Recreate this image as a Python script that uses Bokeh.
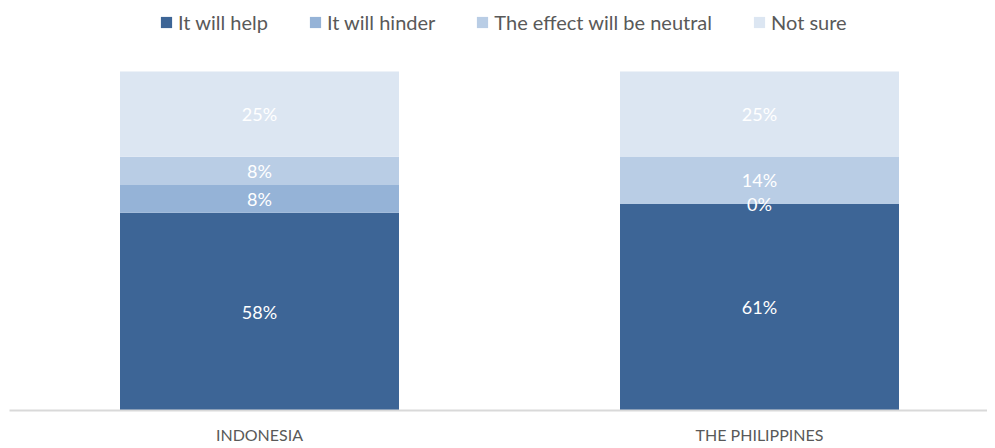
from bokeh.plotting import figure
from bokeh.models import ColumnDataSource, Range1d, Legend, LegendItem, LabelSet, FixedTicker
from bokeh.core.properties import value
from bokeh.embed import file_html
from bokeh.resources import INLINE

categories = ["INDONESIA", "THE PHILIPPINES"]
series = ["It will help", "It will hinder", "The effect will be neutral", "Not sure"]
help_vals = [58.3, 60.9]
hinder_vals = [8.2, 0.0]
neutral_vals = [8.3, 14.0]
notsure_vals = [25.2, 25.1]
labels_help = ["58%", "61%"]
labels_hinder = ["8%", "0%"]
labels_neutral = ["8%", "14%"]
labels_notsure = ["25%", "25%"]
colors = ["#3D6596", "#95B3D7", "#B9CDE5", "#DCE6F2"]

FONT = "Lato"
xs = list(range(len(categories)))

p = figure(frame_width=978, frame_height=410, output_backend="svg", toolbar_location=None,
           x_range=Range1d(-0.5, 1.456), y_range=Range1d(0, 120.9),
           min_border_left=9, min_border_right=0, min_border_top=0, min_border_bottom=30)
p.outline_line_color = None
p.grid.visible = False
p.yaxis.visible = False
p.background_fill_color = "white"

vals = [help_vals, hinder_vals, neutral_vals, notsure_vals]
labs = [labels_help, labels_hinder, labels_neutral, labels_notsure]
bottoms = [0.0] * len(categories)
renderers = []
for s, v, lab, c in zip(series, vals, labs, colors):
    tops = [b + x for b, x in zip(bottoms, v)]
    mids = [(b + t) / 2 for b, t in zip(bottoms, tops)]
    src = ColumnDataSource(dict(x=xs, bottom=bottoms, top=tops, mid=mids, lab=lab))
    r = p.vbar(x="x", bottom="bottom", top="top", width=0.558, source=src,
               fill_color=c, line_color=None)
    renderers.append(r)
    p.add_layout(LabelSet(x="x", y="mid", text="lab", source=src, text_color="white",
                          text_font=value(FONT), text_font_size="18px", text_align="center",
                          text_baseline="middle"))
    bottoms = tops

legend = Legend(items=[LegendItem(label=s, renderers=[r]) for s, r in zip(series, renderers)],
                orientation="horizontal", location=(150, 376))
legend.glyph_width = 14
legend.glyph_height = 14
legend.label_standoff = 5
legend.spacing = 40
legend.padding = 0
legend.margin = 0
legend.border_line_color = None
legend.background_fill_alpha = 0
legend.label_text_font = FONT
legend.label_text_font_size = "20px"
legend.label_text_color = "#595959"
p.add_layout(legend)

p.xaxis.ticker = FixedTicker(ticks=xs)
p.xaxis.major_label_overrides = {i: c for i, c in enumerate(categories)}
p.xaxis.major_tick_line_color = None
p.xaxis.minor_tick_line_color = None
p.xaxis.axis_line_color = "#D9D9D9"
p.xaxis.axis_line_width = 2
p.xaxis.major_label_text_font = FONT
p.xaxis.major_label_text_font_size = "16px"
p.xaxis.major_label_text_color = "#595959"
p.xaxis.major_label_standoff = 8

open("out.html", "w").write(file_html(p, INLINE))
